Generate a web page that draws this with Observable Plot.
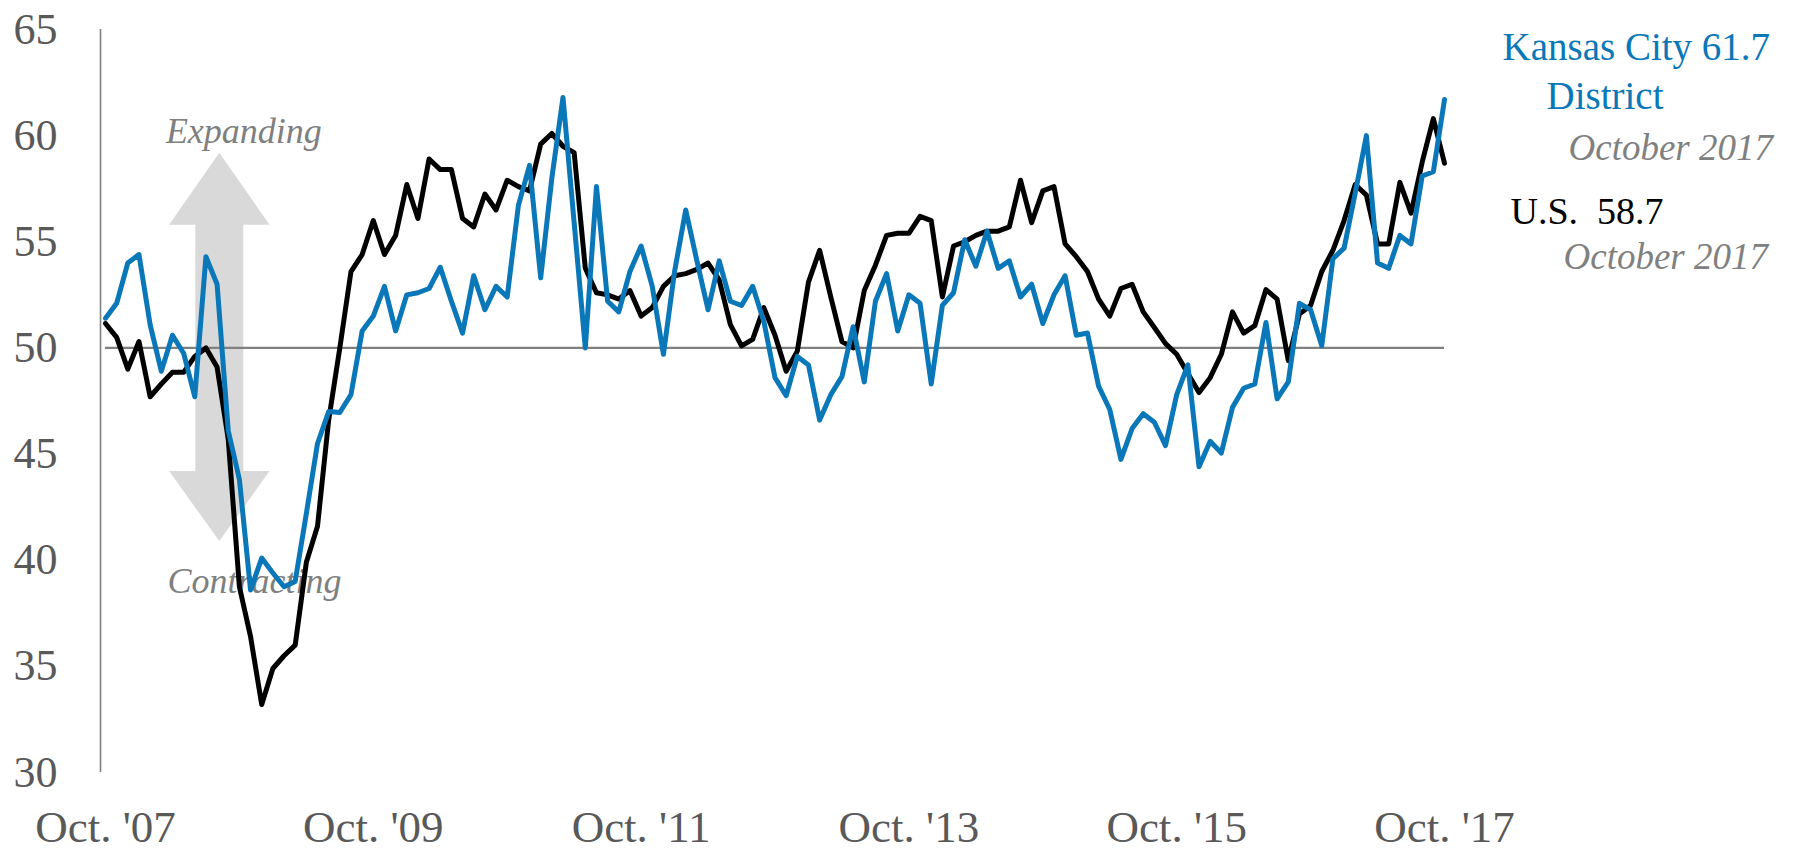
<!DOCTYPE html>
<html>
<head>
<meta charset="utf-8">
<script src="https://cdn.jsdelivr.net/npm/d3@7"></script>
<script src="https://cdn.jsdelivr.net/npm/@observablehq/plot@0.6"></script>
<style>
  html, body { margin: 0; padding: 0; background: #ffffff; }
  #chart { width: 1794px; height: 851px; }
  #chart svg, #chart svg text { font-family: "Liberation Serif", "DejaVu Serif", serif !important; }
</style>
</head>
<body>
<div id="chart"></div>
<script>
// ---------------- data ----------------
const firstMonth = [2007, 9];          // October 2007 (UTC month index 9)
const monthCount = 121;                 // Oct 2007 .. Oct 2017

const usValues = [
  51.15, 50.5, 49.0, 50.3, 47.7, 48.3, 48.85, 48.85, 49.6, 50.0,
  49.1, 45.7, 38.75, 36.4, 33.2, 34.9, 35.5, 36.0, 39.9, 41.6,
  46.6, 50.0, 53.6, 54.4, 56.0, 54.4, 55.3, 57.7, 56.1, 58.9,
  58.4, 58.4, 56.1, 55.7, 57.25, 56.5, 57.9, 57.6, 57.4, 59.6,
  60.1, 59.5, 59.2, 53.75, 52.6, 52.5, 52.3, 52.7, 51.5, 51.9,
  52.9, 53.4, 53.5, 53.7, 54.0, 53.2, 51.1, 50.1, 50.4, 51.9,
  50.6, 48.9, 49.85, 53.1, 54.6, 52.4, 50.3, 50.0, 52.7, 53.9,
  55.3, 55.4, 55.4, 56.2, 56.0, 52.4, 54.8, 55.0, 55.3, 55.5,
  55.5, 55.7, 57.9, 55.9, 57.4, 57.6, 54.9, 54.3, 53.6, 52.3,
  51.5, 52.8, 53.0, 51.7, 50.96, 50.2, 49.7, 48.8, 47.9, 48.6,
  49.7, 51.7, 50.7, 51.05, 52.75, 52.3, 49.4, 51.6, 52.0, 53.6,
  54.6, 56.0, 57.7, 57.2, 54.9, 54.9, 57.8, 56.35, 58.75, 60.8,
  58.7
];

const kcValues = [
  51.4, 52.1, 54.0, 54.4, 51.1, 48.9, 50.6, 49.75, 47.7, 54.3,
  53.0, 46.1, 43.8, 38.6, 40.1, 39.4, 38.75, 39.0, 42.2, 45.5,
  47.0, 46.96, 47.8, 50.8, 51.5, 52.9, 50.8, 52.5, 52.6, 52.8,
  53.8, 52.2, 50.7, 53.4, 51.8, 52.9, 52.4, 56.7, 58.6, 53.3,
  58.0, 61.8, 55.9, 50.0, 57.6, 52.2, 51.7, 53.6, 54.8, 52.9,
  49.7, 53.6, 56.5, 54.1, 51.8, 54.1, 52.2, 52.0, 52.9, 51.25,
  48.6, 47.75, 49.6, 49.2, 46.6, 47.8, 48.65, 51.0, 48.4, 52.2,
  53.5, 50.8, 52.5, 52.1, 48.3, 52.0, 52.6, 55.1, 53.85, 55.5,
  53.75, 54.1, 52.4, 53.0, 51.15, 52.5, 53.4, 50.6, 50.7, 48.2,
  47.1, 44.75, 46.2, 46.9, 46.5, 45.4, 47.8, 49.2, 44.4, 45.6,
  45.05, 47.2, 48.1, 48.3, 51.2, 47.6, 48.4, 52.1, 51.8, 50.1,
  54.2, 54.7, 57.3, 60.0, 54.0, 53.75, 55.3, 54.9, 58.1, 58.3,
  61.7
];

const tickMonths = ["2007-10", "2009-10", "2011-10", "2013-10", "2015-10", "2017-10"];
const tickLabels = ["Oct. '07", "Oct. '09", "Oct. '11", "Oct. '13", "Oct. '15", "Oct. '17"];
const yTicks = [30, 35, 40, 45, 50, 55, 60, 65];

const seriesNames = ["U.S.", "Kansas City District"];
const seriesColors = ["#000000", "#0a77b8"];

// annotation texts
const zoneLabels = [
  {text: "Expanding", monthIndex: 12.4, value: 59.63},
  {text: "Contracting", monthIndex: 13.35, value: 38.45}
];
// double-headed arrow: centre month, tip and head-base values
const arrowSpec = {monthIndex: 10.2, topTip: 59.2, topBase: 55.8, bottomBase: 44.2, bottomTip: 40.9, headHalf: 4.5, shaftHalf: 2.15};

const sideNotes = [
  {text: "Kansas City 61.7", color: "#0a77b8", italic: false},
  {text: "District", color: "#0a77b8", italic: false},
  {text: "October 2017", color: "#808080", italic: true},
  {text: "U.S.\u00a0\u00a058.7", color: "#000000", italic: false},
  {text: "October 2017", color: "#808080", italic: true}
];

// ---------------- layout ----------------
const W = 1794, H = 851;
const M = {left: 105, right: 350, top: 29, bottom: 79};
const sideLayout = [
  {left: 1502, baseline: 59, size: 39},
  {left: 1546, baseline: 108, size: 39},
  {left: 1568, baseline: 159, size: 37},
  {left: 1510, baseline: 223, size: 38},
  {left: 1563, baseline: 268, size: 37}
];
const serif = "Liberation Serif";

// ---------------- build tables ----------------
const start = new Date(Date.UTC(firstMonth[0], firstMonth[1], 1));
const months = d3.utcMonth.range(start, d3.utcMonth.offset(start, monthCount));
const monthKey = d3.utcFormat("%Y-%m");
const keys = months.map(monthKey);
const rows = [];
[usValues, kcValues].forEach((vals, s) => {
  vals.forEach((v, i) => rows.push({series: seriesNames[s], idx: i, month: keys[i], value: v}));
});
const tickIdx = tickMonths.map(m => keys.indexOf(m));

const a = arrowSpec;
const arrowPoly = [
  [a.monthIndex, a.topTip],
  [a.monthIndex + a.headHalf, a.topBase],
  [a.monthIndex + a.shaftHalf, a.topBase],
  [a.monthIndex + a.shaftHalf, a.bottomBase],
  [a.monthIndex + a.headHalf, a.bottomBase],
  [a.monthIndex, a.bottomTip],
  [a.monthIndex - a.headHalf, a.bottomBase],
  [a.monthIndex - a.shaftHalf, a.bottomBase],
  [a.monthIndex - a.shaftHalf, a.topBase],
  [a.monthIndex - a.headHalf, a.topBase]
].map(([x, y]) => ({x, y}));

const plot = Plot.plot({
  width: W,
  height: H,
  marginLeft: M.left,
  marginRight: M.right,
  marginTop: M.top,
  marginBottom: M.bottom,
  x: {domain: [0, monthCount - 1], axis: null},
  y: {domain: [30, 65], axis: null},
  color: {domain: seriesNames, range: seriesColors},
  style: {fontFamily: serif, background: "#ffffff", overflow: "visible"},
  marks: [
    Plot.line(arrowPoly, {x: "x", y: "y", fill: "#d9d9d9", stroke: "none", curve: "linear-closed"}),
    ...zoneLabels.map(z => Plot.text([z], {
      x: "monthIndex", y: "value", text: "text",
      fontFamily: serif, fontSize: 36, fontStyle: "italic", fill: "#7f7f7f",
      textAnchor: "middle", lineAnchor: "bottom"
    })),
    Plot.ruleY([50], {stroke: "#808080", strokeWidth: 2.2}),
    Plot.ruleX([0], {y1: 30, y2: 65, dx: -5, stroke: "#808080", strokeWidth: 1.6}),
    Plot.axisY({ticks: yTicks, tickSize: 0, tickPadding: 48, fontSize: 44, fontFamily: serif, fill: "#595959"}),
    Plot.axisX({
      ticks: tickIdx, tickSize: 0, tickPadding: 38, fontSize: 45, fontFamily: serif, fill: "#595959",
      tickFormat: d => tickLabels[tickIdx.indexOf(d)]
    }),
    Plot.line(rows, {x: "idx", y: "value", z: "series", stroke: "series", strokeWidth: 5, strokeLinejoin: "round"}),
    ...sideNotes.map((n, i) => Plot.text([n], {
      frameAnchor: "top-left",
      dx: sideLayout[i].left - M.left,
      dy: sideLayout[i].baseline - M.top,
      text: "text",
      fill: n.color,
      fontFamily: serif,
      fontSize: sideLayout[i].size,
      fontStyle: n.italic ? "italic" : "normal",
      textAnchor: "start",
      lineAnchor: "bottom"
    }))
  ]
});

document.getElementById("chart").appendChild(plot);
</script>
</body>
</html>
